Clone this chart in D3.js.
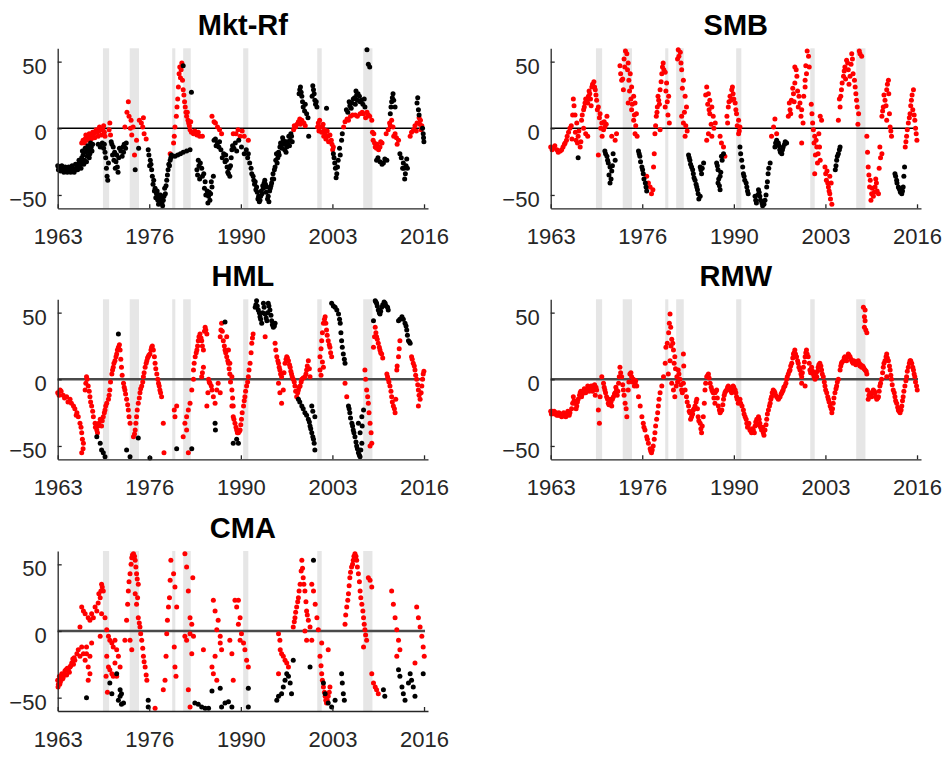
<!DOCTYPE html>
<html>
<head>
<meta charset="utf-8">
<script src="https://cdn.jsdelivr.net/npm/d3@7"></script>
<style>
  body { margin: 0; background: #fff; }
  svg { display: block; }
  text { font-family: "Liberation Sans", Arial, Helvetica, sans-serif; }
</style>
</head>
<body>
<svg id="chart" width="951" height="757"></svg>
<script>
// Rolling factor estimates: [decimal year, value in %].
// Red: significant months, black: the rest.
const mktRfRed = [[1967.0,-11],[1967.5,-8],[1967.7,-7],[1968.0,-7],[1968.3,-6],[1968.5,-5],[1968.8,-4],[1969.0,-3],[1969.3,-3],[1969.5,-2],[1969.8,-1],[1970.1,-1],[1970.3,-3],
  [1967.2,-9],[1967.4,-11],[1967.6,-5],[1967.9,-9],[1968.1,-4],[1968.4,-8],[1968.6,-3],[1968.9,-7],[1969.1,-1],[1969.4,-6],[1969.6,1],[1969.9,-5],[1970.2,2],[1970.4,-6],
  [1971.0,-1],[1971.1,4],[1971.2,-5],
  [1973.3,1],[1973.6,12],[1973.8,20],[1973.9,9],[1974.1,0],[1974.2,6],[1974.3,-5],[1974.5,1],[1974.7,-20],[1975.0,-9],
  [1975.4,6],[1975.7,4],[1975.9,1],[1976.0,8],[1976.1,-4],[1976.4,-8],
  [1979.9,-19],[1980.4,-11],[1980.5,-6],[1980.6,1],[1980.8,9],[1980.9,16],[1981.0,22],[1981.1,31],[1981.2,41],[1981.3,46],[1981.6,49],
  [1981.7,36],[1981.8,29],[1982.0,20],[1982.1,16],[1982.3,9],[1982.4,12],[1982.6,4],[1982.8,-1],[1982.9,5],[1983.3,-4],[1983.8,-5],[1984.6,-6],
  [1981.4,38],[1981.5,44],[1981.9,25],[1982.2,12],[1982.5,6],[1982.7,2],[1983.0,-3],[1983.5,-2],[1984.2,-6],[1984.0,-3],
  [1986.0,9],[1986.3,5],[1986.5,4],[1986.8,1],[1987.1,-1],[1987.4,-4],
  [1989.1,-4],[1989.5,-4],[1989.8,-1],[1990.1,-6],[1990.4,-2],[1990.7,-6],[1991.3,-9],
  [1997.9,-1],[1998.2,1],[1998.6,5],[1998.9,3],[1999.1,6],[1998.0,2],[1998.4,3],[1998.8,7],[1999.4,4],[1999.6,2],
  [2001.5,4],[2001.6,-2],[2001.8,1],[2002.1,1],[2002.3,-6],[2002.5,-4],[2002.8,-2],[2002.9,-6],[2003.4,-9],[2003.7,-14],
  [2001.4,1],[2001.7,6],[2002.0,-3],[2002.2,3],[2002.4,-1],[2002.6,-8],[2003.0,-10],[2003.2,-5],[2003.5,-12],[2003.6,-16],
  [2005.2,1],[2005.7,7],[2006.2,9],[2006.9,10],[2007.6,11],[2008.1,11],[2008.8,10],[2009.3,6],
  [2005.4,5],[2005.9,6],[2006.5,10],[2007.2,9],[2007.9,12],[2008.4,8],[2008.6,12],[2009.0,9],
  [2009.5,-9],[2009.6,-4],[2009.8,-14],[2010.3,-16],[2010.8,-11],[2009.4,-3],[2009.7,-11],[2010.0,-15],[2010.1,-12],[2010.5,-14],[2010.6,-10],
  [2011.7,-1],[2012.0,2],[2012.2,6],[2012.7,-4],[2013.2,-9],[2011.4,-4],[2011.9,4],[2012.4,1],[2012.5,-6],[2012.9,-7],[2013.0,-12],
  [2014.9,-6],[2015.4,-1],[2015.9,4],[2016.4,6],[2016.6,2],[2015.1,-3],[2015.6,2],[2015.8,-2],[2016.2,8],[2016.3,3],[2016.5,-1]];

const mktRfBlack = [[1963.5,-28],[1963.7,-29],[1964.0,-30],[1964.2,-31],[1964.5,-30],[1964.7,-31],[1965.0,-32],[1965.2,-31],[1965.5,-31],[1965.7,-30],[1966.0,-31],[1966.3,-29],[1966.5,-27],[1966.7,-28],[1967.0,-26],
  [1963.6,-31],[1963.9,-32],[1964.1,-28],[1964.4,-33],[1964.6,-29],[1964.9,-33],[1965.1,-29],[1965.4,-33],[1965.6,-28],[1965.9,-33],[1966.1,-27],[1966.4,-31],[1966.6,-24],[1966.8,-25],[1966.9,-30],
  [1967.0,-22],[1967.2,-20],[1967.4,-24],[1967.6,-18],[1967.8,-21],[1968.0,-16],[1968.2,-19],[1968.4,-14],[1968.6,-12],
  [1967.1,-17],[1967.3,-27],[1967.5,-15],[1967.7,-25],[1967.9,-13],[1968.1,-22],[1968.3,-11],[1968.5,-17],
  [1969.4,-12],[1969.7,-14],[1970.0,-11],[1970.2,-15],[1970.3,-12],[1970.4,-18],
  [1970.5,-22],[1970.6,-30],[1970.7,-36],[1970.8,-39],[1970.9,-26],
  [1971.3,-10],[1971.6,-14],[1971.8,-18],[1972.0,-25],[1972.2,-29],[1972.4,-22],[1972.7,-17],[1973.0,-14],[1973.2,-12],[1973.5,-11],
  [1971.4,-12],[1971.5,-20],[1971.7,-24],[1971.9,-30],[1972.1,-20],[1972.3,-33],[1972.5,-15],[1972.9,-21],[1973.1,-18],[1973.4,-15],
  [1974.8,-31],[1975.3,-15],
  [1976.7,-16],[1977.0,-24],[1977.2,-31],[1977.5,-39],[1977.7,-45],[1977.9,-49],[1978.2,-52],[1978.4,-55],[1978.7,-56],[1978.9,-54],[1979.2,-49],[1979.4,-39],[1979.6,-31],[1979.9,-24],[1980.1,-20],[1978.0,-47],[1978.5,-50],[1978.2,-57],
  [1976.8,-20],[1976.9,-28],[1977.1,-27],[1977.3,-36],[1977.4,-42],[1977.6,-47],[1977.8,-52],[1978.1,-54],[1978.3,-50],[1978.6,-53],[1978.8,-58],[1979.0,-51],[1979.1,-45],[1979.3,-43],[1979.5,-35],[1979.7,-27],[1979.8,-28],[1980.0,-22],
  [1981.8,47],[1983.0,27],
  [1980.6,-21],[1981.0,-20],[1981.4,-19],[1981.8,-18],[1982.3,-17],[1982.8,-16],
  [1983.8,-31],[1984.1,-28],[1984.3,-26],[1984.8,-34],[1985.0,-40],[1985.3,-47],[1985.5,-51],[1985.7,-54],[1986.0,-44],[1986.2,-36],
  [1983.9,-35],[1984.0,-24],[1984.2,-38],[1984.5,-30],[1984.6,-36],[1984.9,-45],[1985.1,-50],[1985.4,-56],[1985.6,-48],[1985.8,-49],[1985.9,-40],
  [1986.3,-9],[1986.8,-11],[1987.3,-16],[1987.7,-19],[1988.2,-29],[1988.4,-34],[1988.7,-28],[1988.9,-16],[1989.4,-11],[1988.0,-20],[1988.5,-30],
  [1986.5,-8],[1986.6,-13],[1987.0,-14],[1987.1,-10],[1987.5,-22],[1987.9,-25],[1988.1,-24],[1988.3,-33],[1988.6,-36],[1988.8,-22],[1989.0,-13],[1989.2,-15],[1989.6,-17],
  [1989.9,-9],[1990.3,-14],[1990.7,-19],[1991.0,-16],[1991.3,-19],
  [1991.5,-26],[1992.0,-36],[1992.5,-44],[1992.8,-51],[1993.0,-54],[1993.3,-49],[1993.7,-39],[1994.0,-44],[1994.2,-51],[1994.7,-41],[1994.9,-34],[1995.2,-29],[1995.4,-19],[1995.9,-14],[1996.4,-9],[1996.9,-14],[1997.4,-9],[1997.6,-6],
  [1992.3,-40],[1992.6,-48],[1993.5,-45],[1994.4,-47],[1995.0,-38],[1995.6,-22],[1996.1,-12],[1996.6,-16],[1997.1,-12],
  [1991.2,-22],[1991.7,-30],[1991.8,-34],[1992.1,-39],[1992.2,-42],[1992.4,-46],[1992.7,-53],[1992.9,-55],[1993.1,-51],[1993.2,-47],[1993.4,-43],[1993.6,-41],[1993.8,-42],[1993.9,-48],[1994.1,-53],[1994.3,-55],[1994.5,-45],[1994.6,-43],[1994.8,-38],[1995.1,-31],[1995.3,-24],[1995.5,-26],[1995.7,-18],[1995.8,-20],[1996.0,-11],[1996.2,-15],[1996.3,-7],[1996.5,-12],[1996.7,-10],[1996.8,-18],[1997.0,-10],[1997.2,-6],[1997.3,-13],[1997.5,-4],[1997.7,-10],
  [1998.8,29],[1998.9,31],[1999.1,24],[1999.3,16],[1999.8,11],[2000.1,-6],[2000.8,29],[2001.0,21],[2001.3,16],[2002.7,15],
  [1998.7,26],[1999.0,27],[1999.2,20],[1999.5,13],[1999.6,18],[2000.0,8],[2000.6,24],[2000.7,32],[2000.9,26],[2001.1,18],[2001.2,20],
  [2003.7,-19],[2003.9,-26],[2004.2,-34],[2004.4,-24],[2004.9,-9],[2003.8,-22],[2004.0,-30],[2004.1,-37],[2004.3,-29],[2004.6,-15],[2004.7,-20],[2005.0,-4],
  [2005.6,14],[2006.1,17],[2006.4,19],[2006.8,23],[2007.1,25],[2007.3,26],[2007.8,21],[2008.3,16],
  [2005.8,12],[2006.0,20],[2006.3,15],[2006.6,22],[2006.9,18],[2007.0,28],[2007.2,21],[2007.5,24],[2007.6,20],[2008.0,18],[2008.2,22],
  [2008.6,59],[2008.8,48],[2009.0,46],
  [2010.0,-24],[2010.5,-25],[2011.0,-26],[2011.5,-24],[2010.2,-22],[2010.8,-27],[2011.2,-23],
  [2012.0,11],[2012.2,20],[2012.4,26],[2012.7,16],[2012.1,16],[2012.3,23],[2012.5,21],
  [2013.4,-19],[2013.9,-26],[2014.2,-34],[2014.5,-30],[2013.6,-22],[2013.8,-30],[2014.0,-30],[2014.1,-38],[2014.3,-28],[2014.4,-23],
  [2015.9,19],[2016.1,14],[2016.8,-4],[2016.9,-10],[2016.0,23],[2016.2,10],[2016.7,0],[2016.85,-7]];

const smbRed = [[1963.5,-14],[1963.9,-15],[1964.4,-16],[1964.9,-17],[1965.3,-14],[1965.6,-11],[1965.8,-9],
  [1963.7,-16],[1964.1,-13],[1964.6,-18],[1965.1,-16],[1965.5,-12],[1965.9,-6],[1966.1,-3],[1966.3,0],[1966.5,2],
  [1966.8,22],[1966.9,17],[1967.05,10],[1967.3,4],[1967.5,-6],[1967.8,-14],[1967.4,-11],
  [1966.6,-8],[1966.7,10],[1967.1,-3],[1967.2,-9],[1967.6,-2],[1967.9,-10],
  [1968.0,6],[1968.3,14],[1968.5,19],[1968.75,21],[1969.0,24],[1969.2,26],[1969.5,31],[1969.8,35],[1970.0,29],
  [1968.1,10],[1968.4,16],[1968.6,22],[1968.9,19],[1969.1,28],[1969.3,22],[1969.6,33],[1969.9,31],[1969.4,17],
  [1968.3,0],[1968.6,-4],[1968.9,-6],
  [1970.2,21],[1970.45,16],[1970.7,11],[1970.95,4],[1971.2,-1],[1971.4,1],[1971.7,9],[1970.45,-20],
  [1970.1,25],[1970.3,14],[1970.6,8],[1970.8,0],[1971.0,-6],[1971.3,5],[1971.6,3],
  [1972.4,-6],[1972.9,-9],[1973.1,-4],
  [1973.6,47],[1973.85,36],[1974.1,29],[1974.3,46],[1974.6,56],[1974.8,49],[1975.1,41],[1975.3,31],[1975.6,24],[1975.8,19],[1976.0,11],[1975.8,-4],[1975.6,6],[1975.3,14],[1974.8,19],
  [1973.7,41],[1974.0,37],[1974.2,52],[1974.4,58],[1974.7,44],[1974.9,36],[1975.0,28],[1975.2,22],[1975.4,18],[1975.7,10],[1975.9,2],[1976.1,-6],
  [1977.5,-36],[1977.75,-41],[1978.0,-44],[1978.2,-49],[1978.5,-29],[1978.4,-46],
  [1978.6,-19],[1978.7,-4],[1978.9,9],[1979.05,16],[1979.25,21],[1979.45,29],[1979.7,41],[1979.9,49],[1980.2,42],[1980.4,34],[1980.7,24],[1979.45,-1],[1980.2,16],
  [1978.8,2],[1979.0,12],[1979.15,24],[1979.35,18],[1979.6,35],[1979.8,46],[1980.0,44],[1980.3,28],[1980.5,20],[1980.6,10],[1980.8,4],
  [1982.1,59],[1982.4,57],[1982.6,44],[1982.85,36],[1983.1,24],[1983.3,16],[1982.85,4],[1983.1,-6],[1982.6,9],
  [1982.0,52],[1982.2,54],[1982.5,49],[1982.7,30],[1983.0,12],[1983.2,2],[1983.4,-2],
  [1986.25,31],[1986.5,26],[1986.7,21],[1987.0,16],[1987.2,9],[1987.5,4],[1986.7,11],[1986.25,-9],[1986.5,-4],[1987.0,-6],
  [1986.1,25],[1986.4,18],[1986.6,14],[1986.9,3],[1987.3,0],
  [1988.2,-6],[1988.4,-11],[1988.7,-14],[1988.9,-21],
  [1989.2,9],[1989.4,16],[1989.65,24],[1989.9,29],[1990.1,26],[1990.4,19],[1990.6,11],[1990.9,6],[1991.1,1],[1990.9,-4],
  [1989.3,4],[1989.5,20],[1989.8,21],[1990.0,31],[1990.2,22],[1990.5,14],[1990.7,2],[1991.0,-2],
  [1995.7,-6],[1996.0,1],[1996.2,7],[1996.45,-4],
  [1998.15,9],[1998.4,14],[1998.6,21],[1998.9,26],[1999.1,34],[1999.4,39],[1999.1,46],[1999.6,16],[1999.85,19],[2000.1,14],[2000.3,4],[2000.6,31],[2000.8,41],[2001.1,54],[2000.6,36],[2000.1,-11],
  [1998.3,19],[1998.5,11],[1998.8,30],[1999.0,20],[1999.3,44],[1999.5,28],[1999.7,24],[2000.0,9],[2000.4,24],[2000.7,47],[2000.9,58],[2001.2,46],
  [2001.6,11],[2001.8,-1],[2002.0,-6],[2002.3,-14],[2002.5,-19],[2002.8,-24],[2002.0,-34],[2003.0,6],[2002.8,9],
  [2001.5,18],[2001.7,4],[2001.9,-11],[2002.1,-20],[2002.2,-9],[2002.4,-26],[2002.6,-4],[2002.7,-14],
  [2003.5,-29],[2003.7,-39],[2004.0,-44],[2004.2,-49],[2004.5,-57],[2004.2,-36],
  [2003.6,-34],[2003.8,-32],[2003.9,-41],[2004.1,-47],[2004.3,-53],[2004.4,-41],
  [2005.45,6],[2005.7,16],[2005.9,29],[2006.2,39],[2006.4,46],[2006.65,51],[2006.9,44],[2007.15,39],[2007.4,56],[2007.6,41],[2007.9,31],[2008.1,21],[2008.4,11],[2008.6,56],[2008.85,54],
  [2005.6,22],[2005.8,24],[2006.0,34],[2006.3,43],[2006.5,37],[2006.8,49],[2007.0,33],[2007.3,48],[2007.5,52],[2007.8,36],[2008.0,26],[2008.2,16],[2008.5,58],[2008.3,3],
  [2009.6,-6],[2009.8,-29],[2010.1,-39],[2010.3,-49],[2010.55,-51],[2010.8,-44],[2011.0,-41],[2011.3,-49],[2011.5,-14],[2011.8,-19],
  [2009.7,-18],[2009.9,-35],[2010.0,-44],[2010.2,-54],[2010.4,-45],[2010.7,-48],[2010.9,-38],[2011.1,-47],[2011.4,-30],[2011.6,-22],
  [2011.8,9],[2012.0,16],[2012.25,21],[2012.5,29],[2012.75,36],[2012.5,6],[2013.0,1],[2013.2,-6],
  [2011.9,13],[2012.1,25],[2012.4,17],[2012.6,33],[2012.8,26],[2012.9,11],[2013.1,-2],
  [2015.2,-14],[2015.4,-6],[2015.65,4],[2015.9,11],[2016.1,21],[2016.4,29],[2016.6,6],[2016.9,-9],
  [2015.3,-10],[2015.5,-1],[2015.8,8],[2016.0,17],[2016.2,25],[2016.3,14],[2016.5,10],[2016.7,0],[2016.8,-4]];

const smbBlack = [[1967.5,-22],
  [1971.4,-17],[1971.7,-21],[1971.9,-26],[1972.15,-29],[1972.4,-32],[1972.6,-19],[1972.9,-24],[1972.15,-41],
  [1971.5,-19],[1971.8,-24],[1972.0,-35],[1972.3,-38],[1972.5,-28],
  [1976.3,-17],[1976.5,-21],[1976.8,-29],[1977.0,-34],[1977.3,-41],[1977.5,-47],
  [1976.4,-19],[1976.6,-25],[1976.9,-31],[1977.1,-38],[1977.4,-44],
  [1983.6,-20],[1983.8,-24],[1984.05,-29],[1984.3,-34],[1984.55,-39],[1984.8,-44],[1985.0,-49],[1985.3,-51],[1985.3,-29],[1985.5,-34],[1985.8,-26],
  [1983.7,-22],[1983.9,-27],[1984.2,-31],[1984.4,-37],[1984.7,-42],[1984.9,-46],[1985.1,-53],[1985.4,-31],[1985.6,-30],
  [1987.7,-26],[1987.9,-31],[1988.2,-36],[1987.9,-41],[1988.2,-46],[1988.4,-21],[1988.7,-19],
  [1987.8,-28],[1988.0,-38],[1988.1,-43],[1988.3,-33],[1988.5,-24],
  [1991.1,-14],[1991.35,-24],[1991.6,-34],[1991.8,-39],[1992.1,-44],[1992.3,-49],
  [1991.2,-19],[1991.5,-29],[1991.7,-36],[1992.0,-41],[1992.2,-47],
  [1993.3,-51],[1993.5,-56],[1993.8,-46],[1994.0,-51],[1994.3,-56],[1994.5,-55],[1994.75,-54],[1995.0,-44],[1995.2,-34],[1995.5,-26],
  [1993.4,-54],[1993.7,-50],[1993.9,-48],[1994.1,-54],[1994.4,-58],[1994.6,-57],[1994.9,-50],[1995.1,-40],[1995.3,-30],
  [1996.2,-14],[1996.45,-9],[1996.7,-11],[1996.9,-16],[1997.2,-19],[1997.4,-14],[1997.7,-10],[1997.9,-11],
  [1996.3,-11],[1996.6,-12],[1996.8,-13],[1997.0,-18],[1997.3,-16],[1997.6,-12],
  [2005.0,-31],[2005.2,-24],[2005.45,-19],[2005.7,-14],[2005.1,-28],[2005.3,-21],[2005.6,-16],
  [2013.7,-34],[2013.95,-39],[2014.2,-44],[2014.4,-46],[2014.7,-49],[2014.9,-44],[2015.1,-29],
  [2013.8,-36],[2014.0,-41],[2014.3,-45],[2014.5,-48],[2014.8,-47],[2015.0,-36]];

const hmlRed = [[1963.5,-10],[1963.85,-8],[1964.3,-12],[1964.8,-13],[1965.3,-15],[1965.8,-20],[1966.3,-25],[1966.5,-28],
  [1963.7,-12],[1964.0,-9],[1964.5,-14],[1965.0,-17],[1965.5,-18],[1966.0,-22],[1966.2,-27],
  [1966.75,-33],[1967.0,-40],[1967.25,-48],[1967.0,-55],[1967.5,-8],[1967.7,2],[1967.95,-5],[1968.2,-13],[1968.45,-20],[1968.7,-28],
  [1966.9,-36],[1967.1,-45],[1967.2,-52],[1967.6,-3],[1967.8,0],[1968.1,-9],[1968.3,-17],[1968.6,-24],
  [1968.95,-33],[1969.2,-38],[1969.4,-35],[1969.7,-30],[1969.9,-35],[1970.15,-28],[1970.4,-23],[1970.65,-18],
  [1969.0,-36],[1969.3,-40],[1969.5,-33],[1970.0,-31],[1970.3,-25],[1970.5,-20],
  [1970.9,-15],[1971.1,-8],[1971.4,4],[1971.6,9],[1971.85,14],[1972.1,19],[1972.35,24],[1972.6,22],[1972.8,9],[1973.1,-3],[1973.3,-8],[1973.55,-15],[1973.8,-23],[1974.05,-33],
  [1971.0,-12],[1971.2,-2],[1971.5,7],[1971.7,12],[1972.0,17],[1972.2,22],[1972.5,26],[1972.7,15],[1972.9,3],[1973.2,-6],[1973.4,-11],[1973.7,-19],[1973.9,-28],
  [1974.55,-43],[1974.8,-38],[1975.0,-28],[1975.25,-18],[1975.5,-10],[1975.75,-5],
  [1974.7,-41],[1974.9,-33],[1975.1,-23],[1975.4,-14],[1975.6,-7],[1975.9,-2],
  [1976.0,2],[1976.25,9],[1976.5,14],[1976.7,17],[1976.95,19],[1977.2,24],[1977.45,22],[1977.7,12],[1977.95,4],[1978.2,-3],[1978.4,-8],[1978.65,-13],[1978.9,-33],[1979.0,-55],
  [1976.1,5],[1976.4,12],[1976.6,16],[1976.8,18],[1977.1,22],[1977.3,25],[1977.6,17],[1977.8,8],[1978.1,0],[1978.3,-5],[1978.5,-10],
  [1980.5,-23],[1980.6,-28],[1980.85,-20],
  [1981.8,-43],[1982.05,-33],[1982.3,-28],[1982.55,-23],[1982.8,-18],[1983.05,-8],[1983.3,0],[1982.55,-55],[1982.3,-38],
  [1983.3,7],[1983.55,17],[1983.8,22],[1984.0,29],[1984.25,34],[1984.5,29],[1984.75,22],[1985.0,39],[1985.25,34],[1984.5,2],[1984.75,9],[1985.25,-20],[1985.5,0],[1985.7,-3],[1986.0,-8],
  [1983.4,12],[1983.7,20],[1983.9,25],[1984.1,32],[1984.4,31],[1984.6,25],[1984.9,36],[1985.1,37],[1984.6,5],[1985.4,-10],[1985.6,-2],[1985.9,-5],
  [1986.2,-13],[1986.45,-18],[1986.7,-8],[1986.9,-3],[1987.2,-10],
  [1987.2,32],[1987.4,42],[1987.65,29],[1987.9,22],[1988.15,17],[1988.4,12],[1988.6,4],[1988.9,-8],[1989.1,-20],
  [1987.3,37],[1987.5,36],[1987.8,25],[1988.0,20],[1988.3,14],[1988.5,8],[1988.7,-2],[1989.0,-14],
  [1988.15,32],[1988.4,22],[1988.6,12],[1988.9,2],[1988.9,-20],[1989.1,-28],[1989.35,-33],[1989.6,-38],[1989.85,-40],[1990.1,-38],[1990.3,-30],[1990.6,-20],[1990.8,-13],[1991.05,-5],[1991.3,2],[1991.55,12],[1991.8,27],[1992.0,34],
  [1989.2,-30],[1989.5,-36],[1989.7,-40],[1990.0,-39],[1990.2,-34],[1990.4,-25],[1990.7,-16],[1990.9,-9],[1991.2,-2],[1991.4,7],[1991.7,20],[1991.9,31],
  [1993.75,32],[1995.2,27],[1995.45,17],[1995.7,12],[1995.9,7],[1996.15,2],[1995.7,-3],[1995.9,-10],[1996.15,-18],[1996.4,-8],[1996.65,12],[1996.9,17],[1997.15,14],[1997.4,9],[1997.6,4],[1997.85,0],[1998.1,-5],[1998.35,-13],[1998.6,-8],[1998.85,-5],[1999.1,0],[1999.55,2],[1999.8,7],[2000.05,14],[2000.3,2],
  [1995.3,22],[1995.6,14],[1995.8,9],[1996.0,4],[1996.5,5],[1996.8,15],[1997.0,16],[1997.3,11],[1997.5,6],[1997.7,2],[1998.0,-2],[1998.2,-9],[1998.5,-10],[1998.7,-6],[1999.0,-2],[1999.3,1],[1999.7,4],[1999.9,10],[2000.2,8],
  [2001.75,17],[2002.0,29],[2002.25,42],[2002.5,47],[2002.7,37],[2002.95,29],[2003.2,24],[2003.45,17],[2002.25,9],[2001.75,7],
  [2001.9,23],[2002.1,35],[2002.4,45],[2002.6,42],[2002.8,33],[2003.1,26],[2003.3,20],[2002.1,13],[2001.9,3],
  [2005.4,-3],[2005.65,-13],
  [2008.3,7],[2008.55,-8],[2008.8,-18],[2009.05,-33],[2009.3,-48],[2009.05,-50],[2009.55,24],[2009.8,39],[2010.0,32],[2010.25,27],[2010.5,22],[2010.75,19],
  [2008.4,0],[2008.7,-13],[2008.9,-25],[2009.2,-40],[2009.7,32],[2009.9,35],[2010.1,30],[2010.4,24],[2010.6,20],[2010.9,16],
  [2011.5,4],[2011.7,0],[2011.95,-5],[2012.2,-13],[2012.45,-20],[2012.7,-25],[2013.2,17],[2013.4,29],[2012.95,7],
  [2011.6,2],[2011.8,-2],[2012.1,-9],[2012.3,-17],[2012.6,-22],[2012.8,-15],[2013.0,10],[2013.3,23],
  [2015.1,17],[2015.35,12],[2015.6,7],[2015.85,0],[2016.1,-8],[2016.35,-15],[2016.6,-5],[2016.8,4],[2016.1,-20],
  [2015.2,15],[2015.5,10],[2015.7,3],[2016.0,-4],[2016.2,-12],[2016.5,-10],[2016.7,0],[2016.9,6]];

const hmlBlack = [[1969.2,-43],[1969.7,-48],[1969.9,-53],[1970.15,-55],[1970.4,-58],
  [1972.35,34],[1973.55,-53],[1974.05,-58],
  [1975.25,-44],[1976.95,-59],
  [1980.85,-52],[1983.05,-52],
  [1986.45,-33],[1986.5,-38],
  [1987.9,43],[1989.1,-48],
  [1989.6,-45],[1989.85,-48],
  [1992.3,54],[1992.5,59],[1992.75,52],[1993.0,47],[1993.25,42],[1993.5,57],[1993.75,49],[1994.0,44],[1994.2,57],[1994.45,52],[1994.7,44],[1994.95,39],[1995.2,42],
  [1992.4,56],[1992.6,55],[1992.9,50],[1993.1,45],[1993.4,50],[1993.6,54],[1993.9,46],[1994.1,50],[1994.3,55],[1994.6,48],[1994.8,41],[1995.1,40],
  [1998.6,-15],[1999.1,-20],[1999.55,-25],[2000.05,-30],[2000.3,-35],[2000.55,-40],[2000.8,-45],[2001.0,-53],[2000.55,-20],[2001.0,-28],
  [1998.8,-17],[1999.3,-22],[1999.8,-27],[2000.2,-32],[2000.4,-37],[2000.7,-43],[2000.9,-48],[2000.7,-24],
  [2003.45,57],[2003.95,54],[2004.45,49],[2004.7,42],[2004.9,29],[2005.15,19],[2005.4,12],
  [2003.7,55],[2004.2,52],[2004.6,45],[2004.8,35],[2005.0,24],[2005.3,15],
  [2005.9,-20],[2006.1,-25],[2006.4,-33],[2006.6,-38],[2006.85,-43],[2007.1,-50],[2007.35,-55],[2007.6,-58],[2007.85,-48],[2007.35,-33],[2007.85,-28],[2008.1,-23],
  [2006.0,-22],[2006.2,-29],[2006.5,-35],[2006.7,-40],[2007.0,-47],[2007.2,-52],[2007.5,-57],[2007.7,-53],[2007.6,-40],[2007.9,-35],
  [2009.8,59],[2010.0,57],[2010.25,52],[2010.5,49],[2010.75,54],[2011.25,57],[2011.7,52],[2009.55,44],
  [2009.9,58],[2010.1,55],[2010.4,50],[2010.6,51],[2010.9,56],[2011.1,58],[2011.4,55],[2011.6,54],
  [2013.2,44],[2013.7,47],[2014.15,42],[2014.4,37],[2014.65,29],[2014.9,27],
  [2013.4,45],[2013.9,45],[2014.3,40],[2014.5,33],[2014.8,28]];

const rmwRed = [[1963.5,-24],[1963.7,-24],[1963.9,-25],[1964.1,-26],[1964.4,-27],[1964.6,-27],[1964.85,-27],[1965.1,-28],[1965.35,-27],[1965.6,-26],[1965.85,-27],[1966.1,-26],[1966.3,-25],
  [1963.6,-26],[1964.0,-24],[1964.3,-25],[1964.7,-25],[1965.0,-26],[1965.4,-25],[1965.7,-28],[1966.0,-24],[1966.2,-27],
  [1966.55,-22],[1966.8,-13],[1967.05,-18],[1967.3,-20],[1967.5,-15],[1967.8,-10],[1968.0,-13],
  [1966.7,-18],[1966.9,-16],[1967.2,-22],[1967.4,-17],[1967.7,-12],[1967.9,-9],[1968.1,-11],[1968.4,-7],[1968.6,-10],[1968.9,-5],[1969.1,-9],[1969.4,-5],[1969.6,-9],[1969.8,-7],[1970.1,-6],
  [1968.25,-10],[1968.5,-9],[1968.75,-8],[1969.0,-6],[1969.25,-7],[1969.5,-8],[1969.7,-5],[1969.9,-4],[1970.0,-12],[1970.2,-8],[1970.45,-23],[1970.6,-33],[1970.7,-13],[1970.95,2],[1971.2,-3],
  [1971.4,-8],[1971.65,-13],[1971.9,-18],[1972.15,-15],[1972.4,-20],[1972.65,-13],[1972.9,-10],[1973.1,-8],[1973.2,-12],[1973.4,-3],[1973.6,9],[1973.85,2],[1974.1,-8],[1974.35,-18],[1974.6,-28],[1974.8,-8],
  [1971.3,-6],[1971.5,-10],[1971.8,-15],[1972.0,-19],[1972.3,-17],[1972.5,-15],[1972.8,-11],[1973.0,-6],[1973.3,-9],[1973.5,2],[1973.7,5],[1974.0,-4],[1974.2,-12],[1974.5,-22],[1974.9,-2],[1975.2,5],[1975.4,-2],[1975.7,-5],[1975.9,-1],
  [1975.05,4],[1975.3,2],[1975.55,0],[1975.8,-3],[1976.05,-5],
  [1976.3,-13],[1976.55,-20],[1976.8,-28],[1977.0,-33],[1977.1,-36],[1977.25,-38],[1977.5,-43],[1977.6,-45],[1977.75,-48],[1978.0,-52],[1978.1,-54],[1978.2,-55],[1978.3,-53],[1978.45,-50],[1978.6,-45],[1978.7,-40],[1978.8,-35],[1978.95,-30],[1979.1,-25],[1979.2,-20],[1979.3,-15],[1979.45,-10],[1979.7,-5],[1979.95,2],[1980.2,12],[1980.3,24],[1980.5,27],
  [1980.9,49],[1981.0,39],[1981.15,30],[1981.4,22],[1981.6,17],[1980.9,14],[1980.65,4],[1981.15,-3],[1981.4,-8],[1981.6,-13],[1981.9,2],[1982.1,7],[1982.35,0],[1982.6,-8],[1982.85,19],[1982.85,-3],
  [1980.7,35],[1980.8,42],[1981.05,25],[1981.3,27],[1981.5,12],[1981.7,8],[1981.8,-5],[1982.0,-2],[1982.2,4],[1982.5,-4],[1982.7,-10],[1982.9,10],[1983.1,-8],
  [1983.3,-13],[1983.6,-20],[1983.8,-25],[1984.05,-28],[1984.3,-23],[1984.55,-20],[1984.8,-15],[1985.0,-28],[1985.3,-33],[1985.5,-40],[1985.75,-28],
  [1983.4,-17],[1983.7,-24],[1983.9,-30],[1984.2,-26],[1984.4,-22],[1984.7,-17],[1984.9,-22],[1985.1,-31],[1985.4,-37],[1985.6,-35],[1985.9,-18],
  [1986.0,-8],[1986.25,2],[1986.5,4],[1986.75,-3],[1987.0,-8],[1987.2,-10],[1987.45,-18],
  [1987.45,-10],[1987.7,-8],[1987.95,-20],[1988.2,-25],[1988.45,-23],
  [1986.1,-3],[1986.4,3],[1986.6,1],[1986.9,-6],[1987.1,-9],[1987.3,-14],[1987.6,-9],[1987.8,-14],[1988.1,-23],[1988.3,-24],[1988.6,-19],[1988.8,-12],[1989.0,-9],[1989.3,-6],[1989.5,-6],[1989.8,-9],[1990.0,-7],[1990.2,-6],[1990.5,-10],[1990.7,-15],[1991.0,-17],[1991.2,-18],
  [1988.7,-15],[1988.9,-10],[1989.15,-8],[1989.4,-5],[1989.65,-8],[1989.9,-10],[1990.1,-5],[1990.4,-8],[1990.6,-13],[1990.85,-18],[1991.1,-15],
  [1991.6,-23],[1991.85,-28],[1992.1,-33],[1992.3,-35],[1992.55,-38],[1992.8,-40],[1993.05,-38],[1993.3,-35],[1993.55,-30],[1993.8,-28],[1994.0,-33],[1994.25,-38],[1994.5,-40],[1994.75,-38],[1995.0,-30],[1995.25,-23],
  [1991.4,-20],[1991.7,-26],[1992.0,-30],[1992.2,-36],[1992.4,-33],[1992.7,-39],[1992.9,-37],[1993.2,-40],[1993.4,-32],[1993.7,-34],[1993.9,-30],[1994.1,-36],[1994.4,-36],[1994.6,-42],[1994.9,-34],[1995.1,-26],
  [1995.5,-18],[1995.7,-13],[1995.95,-8],[1996.2,-10],[1996.45,-13],[1996.7,-15],[1996.95,-13],[1997.2,-10],[1997.4,-8],[1997.65,-5],[1997.9,0],[1998.15,4],
  [1995.4,-20],[1995.6,-15],[1995.8,-10],[1996.1,-9],[1996.3,-12],[1996.6,-14],[1996.8,-14],[1997.1,-11],[1997.3,-9],[1997.5,-6],[1997.8,-3],[1998.0,2],[1998.3,6],
  [1998.4,7],[1998.65,12],[1998.9,19],[1999.1,22],[1999.35,17],[1999.6,12],[1999.85,7],[2000.1,2],[2000.35,9],[2000.6,17],[2000.8,22],[2001.05,17],[2001.3,7],[2000.6,-5],[2000.1,-3],
  [1998.5,10],[1998.8,16],[1999.0,20],[1999.2,19],[1999.5,14],[1999.7,9],[2000.0,4],[2000.2,5],[2000.5,13],[2000.7,20],[2000.9,19],[2001.2,12],[2001.4,5],
  [2001.55,9],[2001.8,4],[2002.05,0],[2002.3,2],[2002.5,9],[2002.75,12],[2003.0,7],[2003.25,2],[2003.5,-5],[2003.75,-10],[2004.0,-15],[2004.25,-20],[2004.5,-25],[2004.7,-18],[2004.95,-10],[2005.2,-5],[2005.45,0],
  [2001.7,6],[2001.9,2],[2002.2,5],[2002.4,6],[2002.6,11],[2002.9,10],[2003.1,4],[2003.4,-2],[2003.6,-8],[2003.9,-13],[2004.1,-17],[2004.4,-22],[2004.6,-22],[2004.8,-14],[2005.1,-7],[2005.3,-2],
  [2005.7,7],[2005.9,12],[2006.2,14],[2006.4,17],[2006.65,14],[2006.9,19],[2007.15,17],[2007.4,14],[2007.6,12],[2007.9,13],[2008.1,12],[2008.35,14],[2008.6,10],[2008.85,9],[2009.1,9],[2009.35,7],[2009.6,4],
  [2005.8,10],[2006.0,13],[2006.3,16],[2006.5,16],[2006.8,17],[2007.0,18],[2007.3,15],[2007.5,13],[2007.7,14],[2008.0,11],[2008.2,13],[2008.5,12],[2008.7,11],[2009.0,10],[2009.2,8],[2009.5,6],
  [2009.1,54],[2009.35,52],[2009.25,47],[2009.35,44],[2009.25,39],[2009.45,37],[2009.6,35],
  [2009.7,-8],[2009.8,-15],[2010.05,-10],[2010.3,-13],[2010.55,-8],[2010.8,-10],[2011.05,-15],[2011.3,-13],[2011.5,-5],[2011.75,0],
  [2009.9,-12],[2010.2,-12],[2010.4,-10],[2010.7,-9],[2010.9,-13],[2011.2,-14],[2011.4,-9],[2011.6,-3],
  [2012.0,9],[2012.25,14],[2012.5,19],[2012.75,14],[2013.0,7],[2013.2,0],[2012.5,2],
  [2011.9,5],[2012.1,12],[2012.4,17],[2012.6,16],[2012.9,10],[2013.1,3],
  [2013.45,-8],[2013.7,-13],[2013.95,-18],[2014.2,-23],[2014.45,-25],[2014.7,-20],[2014.9,-13],[2015.15,-5],
  [2013.3,-4],[2013.6,-10],[2013.8,-16],[2014.1,-21],[2014.3,-24],[2014.6,-23],[2014.8,-16],[2015.0,-9],
  [2015.4,2],[2015.65,9],[2015.9,14],[2016.15,12],[2016.4,7],[2016.6,2],[2016.85,-5],[2016.95,-8],
  [2015.3,-1],[2015.5,6],[2015.8,12],[2016.0,14],[2016.3,9],[2016.5,4],[2016.7,-2]];

const rmwBlack = [];

const cmaRed = [[1963.5,-37],[1963.6,-40],[1963.75,-34],[1963.9,-38],[1964.1,-32],[1964.2,-36],[1964.3,-35],[1964.55,-30],[1964.7,-29],[1964.8,-33],[1965.05,-29],[1965.2,-31],[1965.3,-27],[1965.55,-24],[1965.7,-21],[1965.8,-25],[1966.0,-22],
  [1963.55,-42],[1963.8,-40],[1964.0,-35],[1964.4,-33],[1964.9,-28],[1965.4,-26],[1965.9,-20],
  [1966.3,-17],[1966.5,-14],[1966.75,-19],[1967.0,-12],[1967.25,-17],[1967.5,-22],[1967.7,-17],[1967.95,-27],[1968.2,-32],[1967.95,-37],[1967.7,-12],[1968.45,-9],[1968.2,-19],
  [1966.75,3],[1967.0,18],[1967.25,15],[1967.5,13],
  [1967.95,10],[1968.2,8],[1968.45,13],[1968.7,10],[1968.95,18],[1969.2,15],[1969.4,21],[1969.7,25],[1969.9,35],[1970.15,30],[1969.9,13],[1969.7,-4],
  [1969.5,28],[1969.8,30],[1970.0,33],
  [1970.4,10],[1970.65,1],[1970.9,-4],[1971.1,-7],[1971.4,-9],[1971.6,-12],[1971.85,-7],[1972.1,-14],[1972.35,-19],[1970.65,-19],[1970.9,-27],[1971.1,-29],[1971.4,-32],[1971.6,-34],[1972.1,-34],[1972.6,-27],[1971.85,-24],[1970.55,-34],[1970.75,-46],
  [1973.3,-7],[1973.55,8],[1973.8,30],[1974.05,43],[1974.3,55],[1974.55,58],[1974.8,53],[1975.0,43],[1975.25,35],[1974.8,28],[1975.0,20],[1975.25,10],[1975.5,3],[1975.75,-7],[1976.0,-19],[1976.25,-27],[1976.5,-37],[1974.05,-7],[1974.3,-14],
  [1973.7,20],[1973.9,37],[1974.2,50],[1974.4,57],[1974.7,56],[1974.9,48],[1975.1,39],[1975.15,25],[1975.4,6],[1975.6,-2],[1975.9,-13],[1976.1,-23],[1976.4,-33],
  [1977.7,-58],
  [1978.9,-44],[1979.15,-37],[1979.3,-19],[1979.4,-2],[1979.5,8],[1979.65,18],[1979.8,25],[1979.9,38],[1980.0,53],[1980.4,43],[1980.6,33],[1980.5,-12],[1980.6,-27],[1980.75,-34],[1980.85,18],
  [1982.05,58],[1982.3,48],[1982.55,30],[1982.8,10],[1983.05,5],[1982.8,-2],[1982.3,-7],[1982.05,-4],[1983.3,-4],[1983.05,-17],[1983.2,40],[1982.55,-44],[1982.8,-57],
  [1984.75,-14],
  [1986.2,23],[1986.45,15],[1986.7,1],[1986.9,8],[1987.2,-4],[1987.4,-14],[1986.0,-27],[1986.2,-32],[1986.7,-37],[1987.2,-9],[1986.45,-19],
  [1988.6,-7],[1988.9,-17],[1989.1,-37],[1989.35,23],
  [1989.6,18],[1989.85,23],[1990.1,10],[1990.3,-2],[1990.6,-9],[1990.8,-14],[1991.05,-22],[1991.3,-27],[1989.85,5],[1990.1,-7],
  [1995.7,-2],[1995.9,-7],[1995.95,-14],[1996.15,-17],[1996.4,-19],[1996.65,-22],[1996.9,-24],[1995.7,-32],[1997.15,-27],
  [1997.85,3],[1998.1,10],[1998.35,18],[1998.6,25],[1998.85,35],[1999.1,53],[1999.3,40],[1999.55,30],[1999.8,15],[2000.05,8],[2000.3,3],[2000.55,-7],[1999.55,0],[1999.8,-7],
  [1998.0,7],[1998.2,14],[1998.5,22],[1998.7,30],[1999.0,45],[1999.2,47],[1999.4,35],[1999.7,22],[1999.9,12],
  [2000.55,35],[2000.8,30],[2001.05,20],[2001.3,10],[2001.5,1],
  [2001.75,-19],[2002.0,-32],[2002.25,-42],[2002.5,-49],[2002.7,-54],[2002.95,-49],[2003.2,-42],[2002.95,-14],[2002.0,-9],
  [2001.9,-26],[2002.1,-37],[2002.4,-46],[2002.6,-52],[2002.8,-52],[2003.1,-46],
  [2005.4,5],[2005.65,18],[2005.9,28],[2006.1,40],[2006.35,48],[2006.6,53],[2006.85,58],[2007.1,53],[2007.35,43],[2007.6,30],[2007.85,20],[2008.1,10],[2008.3,1],[2008.55,-7],[2008.1,-12],[2008.8,40],[2009.05,38],[2009.3,33],
  [2005.5,12],[2005.8,23],[2006.0,34],[2006.2,44],[2006.5,50],[2006.7,56],[2007.0,56],[2007.2,48],[2007.5,37],[2007.7,25],[2008.0,15],[2008.2,5],[2008.4,-3],
  [2009.3,-32],[2009.55,-39],[2009.8,-42],[2010.0,-44],[2010.25,-47],
  [2012.2,30],[2012.45,20],[2012.7,10],[2012.95,1],[2013.2,-7],[2013.4,-14],[2012.95,-19],
  [2015.85,18],[2016.1,10],[2016.35,3],[2016.6,-4],[2016.8,-12],[2016.95,-19],[2015.6,-24]];

const cmaBlack = [[1967.7,-50],
  [1971.1,-39],[1971.4,-47],[1972.1,-32],[1972.6,-44],[1972.8,-47],[1972.35,-52],[1972.6,-49],[1973.1,-54],[1972.8,-55],
  [1976.7,-52],[1976.7,-57],
  [1983.5,-54],[1984.0,-55],[1984.5,-57],[1985.0,-58],[1985.5,-58],
  [1986.0,-45],[1987.2,-43],
  [1987.4,-57],[1987.9,-54],[1988.4,-53],[1988.9,-57],
  [1991.3,-43],[1991.3,-57],
  [1995.45,-52],[1995.7,-49],[1996.15,-47],[1996.4,-42],[1996.65,-37],[1996.9,-32],[1997.15,-34],[1997.4,-39],[1997.6,-47],[1997.85,-22],
  [2000.8,53],[2000.3,-27],
  [2002.25,-39],[2002.5,-47],[2002.95,-54],[2003.45,-57],[2003.95,-52],
  [2004.9,-32],[2005.0,-39],[2005.15,-47],[2005.3,-52],
  [2011.0,-44],[2011.2,-49],
  [2013.2,-29],[2013.4,-34],[2013.7,-42],[2013.9,-47],[2014.15,-52],[2014.65,-39],[2014.9,-32],[2015.1,-37],[2015.35,-42],[2015.6,-49],
  [2016.8,-32]];

// NBER recession spans (decimal years)
const recessions = [[1970.1,1971.0],[1974.0,1975.35],[1980.2,1980.65],[1981.8,1982.9],[1990.55,1991.3],[2001.35,2002.0],[2008.05,2009.4]];

// x ticks: five evenly spaced sample dates, labelled by year
const tickDates = [1963.5, 1976.85, 1990.21, 2003.56, 2016.92];
const tickLabels = ["1963", "1976", "1990", "2003", "2016"];
const yTicks = [-50, 0, 50];

const panels = [
  { title: "Mkt-Rf", red: mktRfRed, black: mktRfBlack, col: 0, row: 0 },
  { title: "SMB",    red: smbRed,   black: smbBlack,   col: 1, row: 0 },
  { title: "HML",    red: hmlRed,   black: hmlBlack,   col: 0, row: 1 },
  { title: "RMW",    red: rmwRed,   black: rmwBlack,   col: 1, row: 1 },
  { title: "CMA",    red: cmaRed,   black: cmaBlack,   col: 0, row: 2 }
];

const colX = [57.7, 550.7];
const rowY = [48.3, 299.3, 551];
const W = 370.3, H = 160;
const axisColor = "#262626";
const dotR = 2.5;

const x = d3.scaleLinear().domain([1963.5, 2017.5]).range([0, W]);
const y = d3.scaleLinear().domain([-60, 60]).range([H, 0]);

const svg = d3.select("#chart");

panels.forEach(p => {
  const g = svg.append("g")
    .attr("transform", `translate(${colX[p.col]},${rowY[p.row]})`);

  // recession shading
  g.append("g").selectAll("rect").data(recessions).join("rect")
    .attr("x", d => x(d[0]))
    .attr("width", d => x(d[1]) - x(d[0]))
    .attr("y", 0).attr("height", H)
    .attr("fill", "#e6e6e6");

  // zero reference line
  g.append("line")
    .attr("x1", 0).attr("x2", x(2016.92) + 1)
    .attr("y1", y(0)).attr("y2", y(0))
    .attr("stroke", p.row === 0 ? "#000" : "#4a4a4a")
    .attr("stroke-width", p.row === 0 ? 1.5 : 2.4);

  const dots = g.append("g");
  dots.selectAll("circle.r").data(p.red).join("circle")
    .attr("class", "r")
    .attr("cx", d => x(d[0])).attr("cy", d => y(d[1]))
    .attr("r", dotR).attr("fill", "#ff0000");
  dots.selectAll("circle.k").data(p.black).join("circle")
    .attr("class", "k")
    .attr("cx", d => x(d[0])).attr("cy", d => y(d[1]))
    .attr("r", dotR).attr("fill", "#000");

  // axes (ticks pointing inward, no box)
  const yAxis = d3.axisLeft(y).tickValues(yTicks).tickFormat(d3.format("d"))
    .tickSizeInner(-4).tickSizeOuter(0).tickPadding(11);
  const gy = g.append("g").call(yAxis);
  gy.selectAll(".tick text").attr("dy", "0.52em");

  const xAxis = d3.axisBottom(x).tickValues(tickDates)
    .tickFormat((d, i) => tickLabels[i])
    .tickSizeInner(-4).tickSizeOuter(0).tickPadding(20);
  const gx = g.append("g").attr("transform", `translate(0,${H})`).call(xAxis);

  [gx, gy].forEach(a => {
    a.select(".domain").attr("stroke", axisColor).attr("stroke-width", 1.3);
    a.selectAll(".tick line").attr("stroke", axisColor).attr("stroke-width", 1.3);
    a.selectAll(".tick text").attr("fill", axisColor)
      .style("font-size", "22px")
      .style("font-family", '"Liberation Sans", Arial, Helvetica, sans-serif');
  });

  // panel title
  g.append("text")
    .attr("x", W / 2).attr("y", -13.3)
    .attr("text-anchor", "middle")
    .style("font-size", "29px").style("font-weight", "bold")
    .attr("fill", "#000")
    .text(p.title);
});
</script>
</body>
</html>
